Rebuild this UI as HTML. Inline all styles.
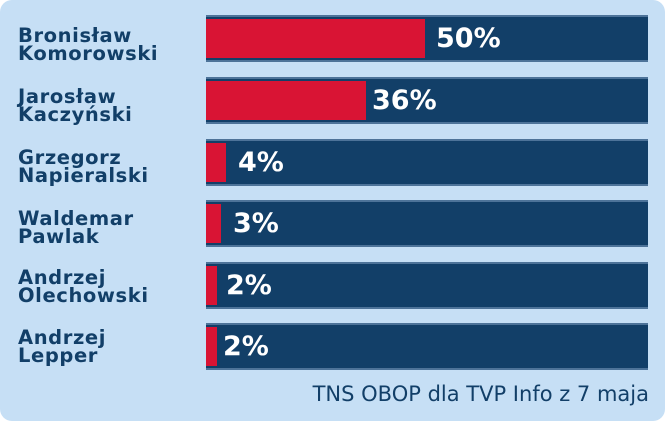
<!DOCTYPE html><html><head><style>
body{margin:0;width:665px;height:421px;background:#fff;overflow:hidden}
#c{position:absolute;left:0;top:0;width:665px;height:421px;background:#c6dff5;border-radius:12px}
.n{position:absolute;left:18px;font:bold 19.5px/18px "DejaVu Sans","Liberation Sans",sans-serif;color:#123f68;letter-spacing:0.6px}
.b{position:absolute;left:206px;width:442px;height:47px;background:#123f68;border-top:2px solid #4d7399;border-bottom:2px solid #4d7399;box-sizing:border-box}
.r{position:absolute;left:0;top:2px;height:39px;background:#d91434}
.v{position:absolute;top:8px;font:bold 27px/27px "DejaVu Sans","Liberation Sans",sans-serif;color:#fff}
.s{position:absolute;right:16px;top:382px;font:21px "DejaVu Sans","Liberation Sans",sans-serif;color:#123f68}
</style></head><body><div id="c">
<div class="n" style="top:27px">Bronisław<br>Komorowski</div>
<div class="b" style="top:15px"><div class="r" style="width:219px"></div><div class="v" style="left:230px">50%</div></div>
<div class="n" style="top:88px">Jarosław<br>Kaczyński</div>
<div class="b" style="top:77px"><div class="r" style="width:160px"></div><div class="v" style="left:166px">36%</div></div>
<div class="n" style="top:149px">Grzegorz<br>Napieralski</div>
<div class="b" style="top:139px"><div class="r" style="width:20px"></div><div class="v" style="left:32px">4%</div></div>
<div class="n" style="top:210px">Waldemar<br>Pawlak</div>
<div class="b" style="top:200px"><div class="r" style="width:15px"></div><div class="v" style="left:27px">3%</div></div>
<div class="n" style="top:269px">Andrzej<br>Olechowski</div>
<div class="b" style="top:262px"><div class="r" style="width:11px"></div><div class="v" style="left:20px">2%</div></div>
<div class="n" style="top:329px">Andrzej<br>Lepper</div>
<div class="b" style="top:323px"><div class="r" style="width:11px"></div><div class="v" style="left:17px">2%</div></div>
<div class="s">TNS OBOP dla TVP Info z 7 maja</div>
</div></body></html>
